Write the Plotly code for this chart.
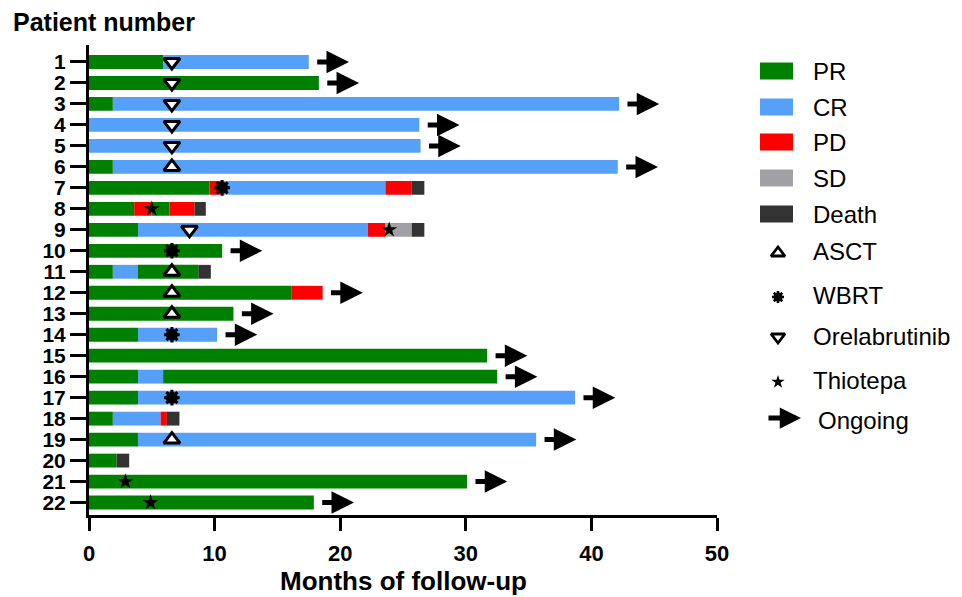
import plotly.graph_objects as go

# ---------------- data ----------------
patients = list(range(1, 23))
tick_labels = [str(p) for p in patients]

# response status sequence per patient and the month at which each segment ends
segment_status = [
    ["PR", "CR"],
    ["PR"],
    ["PR", "CR"],
    ["CR"],
    ["CR"],
    ["PR", "CR"],
    ["PR", "PD", "CR", "PD", "Death"],
    ["PR", "PD", "PR", "PD", "Death"],
    ["PR", "CR", "PD", "SD", "Death"],
    ["PR"],
    ["PR", "CR", "PR", "Death"],
    ["PR", "PD"],
    ["PR"],
    ["PR", "CR"],
    ["PR"],
    ["PR", "CR", "PR"],
    ["PR", "CR"],
    ["PR", "CR", "PD", "Death"],
    ["PR", "CR"],
    ["PR", "Death"],
    ["PR"],
    ["PR"],
]
segment_end = [
    [5.9, 17.5],
    [18.3],
    [1.9, 42.2],
    [26.3],
    [26.4],
    [1.9, 42.1],
    [9.6, 10.6, 23.6, 25.7, 26.7],
    [3.6, 5.0, 6.4, 8.4, 9.3],
    [3.9, 22.2, 23.6, 25.7, 26.7],
    [10.6],
    [1.9, 3.9, 8.7, 9.7],
    [16.1, 18.6],
    [11.5],
    [3.9, 10.2],
    [31.7],
    [3.9, 5.9, 32.5],
    [3.9, 38.7],
    [1.9, 5.7, 6.2, 7.2],
    [3.9, 35.6],
    [2.2, 3.2],
    [30.1],
    [17.9],
]

asct_patient = [6, 11, 12, 13, 19]
asct_month = [6.6, 6.6, 6.6, 6.6, 6.6]
wbrt_patient = [7, 10, 14, 17]
wbrt_month = [10.6, 6.6, 6.6, 6.6]
orela_patient = [1, 2, 3, 4, 5, 9]
orela_month = [6.6, 6.6, 6.6, 6.6, 6.6, 8.0]
thio_patient = [8, 9, 21, 22]
thio_month = [5.0, 23.9, 2.9, 4.9]
ongoing_patient = [1, 2, 3, 4, 5, 6, 10, 12, 13, 14, 15, 16, 17, 19, 21, 22]

status_order = ["PR", "CR", "PD", "SD", "Death"]

# ---------------- styles ----------------
OFF = 8                      # page body margin
W, H = 962 - OFF, 597 - OFF  # figure size so the page fills the window
FONT = "Arial, Liberation Sans, sans-serif"
colors = {"PR": "#008000", "CR": "#56A0FA", "PD": "#FF0000", "SD": "#A1A1A5", "Death": "#333333"}
ARROW_GAP, ARROW_LEN = 0.55, 2.65
BAR_W = 0.66


def px(x):   # window pixel -> figure pixel (x)
    return x - OFF


def py(y):   # window pixel -> figure pixel (y)
    return y - OFF


fig = go.Figure()

# stacked response bars
for st in status_order:
    ys, bases, lens = [], [], []
    for p, sts, ends in zip(patients, segment_status, segment_end):
        start = 0.0
        for s, e in zip(sts, ends):
            if s == st:
                ys.append(p)
                bases.append(start)
                lens.append(e - start)
            start = e
    fig.add_trace(go.Bar(
        y=ys, x=lens, base=bases, orientation="h", width=BAR_W,
        marker=dict(color=colors[st], line=dict(width=0)),
        name=st, showlegend=False, hoverinfo="skip"))

# event markers
fig.add_trace(go.Scatter(x=asct_month, y=asct_patient, mode="markers", showlegend=False,
                         marker=dict(symbol="triangle-up", size=14, color="white",
                                     line=dict(color="black", width=3))))
fig.add_trace(go.Scatter(x=orela_month, y=orela_patient, mode="markers", showlegend=False,
                         marker=dict(symbol="triangle-down", size=14, color="white",
                                     line=dict(color="black", width=3))))
fig.add_trace(go.Scatter(x=wbrt_month, y=wbrt_patient, mode="markers", showlegend=False,
                         marker=dict(symbol="circle", size=12, color="black")))
fig.add_trace(go.Scatter(x=wbrt_month, y=wbrt_patient, mode="markers", showlegend=False,
                         marker=dict(symbol="asterisk-open", size=13, color="black",
                                     line=dict(color="black", width=3))))
fig.add_trace(go.Scatter(x=thio_month, y=thio_patient, mode="markers", showlegend=False,
                         marker=dict(symbol="star", size=12, color="black", line=dict(width=0))))

# ongoing arrows
annotations = []
for p in ongoing_patient:
    end = segment_end[p - 1][-1]
    annotations.append(dict(
        x=end + ARROW_GAP + ARROW_LEN, y=p, ax=end + ARROW_GAP, ay=p,
        xref="x", yref="y", axref="x", ayref="y", text="", showarrow=True,
        arrowhead=2, arrowsize=0.9, arrowwidth=5, arrowcolor="black", standoff=0))

# ---------------- legend (drawn on a pixel overlay axis) ----------------
LEG_FONT = dict(family=FONT, size=24, color="black")
legend_bars = ["PR", "CR", "PD", "SD", "Death"]
legend_bar_y = [71, 107, 142, 178, 214]
shapes = []
for st, yy in zip(legend_bars, legend_bar_y):
    shapes.append(dict(type="rect", xref="x2", yref="y2", x0=px(760), x1=px(793),
                       y0=py(yy) - 8.5, y1=py(yy) + 8.5,
                       fillcolor=colors[st], line=dict(width=0)))
    annotations.append(dict(xref="x2", yref="y2", x=px(811), y=py(yy), text=st, showarrow=False,
                            xanchor="left", yanchor="middle", font=LEG_FONT))

legend_marker_labels = ["ASCT", "WBRT", "Orelabrutinib", "Thiotepa"]
legend_marker_y = [251, 295, 336, 380]
mx = px(778)
fig.add_trace(go.Scatter(x=[mx], y=[py(legend_marker_y[0]) + 2], xaxis="x2", yaxis="y2", mode="markers",
                         showlegend=False, marker=dict(symbol="triangle-up", size=12, color="white",
                                                       line=dict(color="black", width=2.8))))
fig.add_trace(go.Scatter(x=[mx], y=[py(legend_marker_y[1]) + 2], xaxis="x2", yaxis="y2", mode="markers",
                         showlegend=False, marker=dict(symbol="circle", size=9, color="black")))
fig.add_trace(go.Scatter(x=[mx], y=[py(legend_marker_y[1]) + 2], xaxis="x2", yaxis="y2", mode="markers",
                         showlegend=False, marker=dict(symbol="asterisk-open", size=10, color="black",
                                                       line=dict(color="black", width=2.5))))
fig.add_trace(go.Scatter(x=[mx], y=[py(legend_marker_y[2]) + 1], xaxis="x2", yaxis="y2", mode="markers",
                         showlegend=False, marker=dict(symbol="triangle-down", size=12, color="white",
                                                       line=dict(color="black", width=2.8))))
fig.add_trace(go.Scatter(x=[mx], y=[py(legend_marker_y[3]) + 2], xaxis="x2", yaxis="y2", mode="markers",
                         showlegend=False, marker=dict(symbol="star", size=10, color="black")))
for lab, yy in zip(legend_marker_labels, legend_marker_y):
    annotations.append(dict(xref="x2", yref="y2", x=px(811), y=py(yy), text=lab, showarrow=False,
                            xanchor="left", yanchor="middle", font=LEG_FONT))
annotations.append(dict(xref="x2", yref="y2", axref="x2", ayref="y2", x=px(801), y=py(418),
                        ax=px(767), ay=py(418),
                        text="", showarrow=True, arrowhead=2, arrowsize=0.85, arrowwidth=5,
                        arrowcolor="black", standoff=0))
annotations.append(dict(xref="x2", yref="y2", x=px(816), y=py(420), text="Ongoing", showarrow=False,
                        xanchor="left", yanchor="middle", font=LEG_FONT))

# y-axis title at top-left
annotations.append(dict(xref="x2", yref="y2", x=px(11), y=py(22), text="Patient number",
                        showarrow=False, xanchor="left", yanchor="middle",
                        font=dict(family=FONT, size=25, color="black", weight="bold")))

# x-axis title
annotations.append(dict(xref="x2", yref="y2", x=px(403), y=py(581), text="Months of follow-up",
                        showarrow=False, xanchor="center", yanchor="middle",
                        font=dict(family=FONT, size=26, color="black", weight="bold")))

x0_px, x1_px = px(89), px(717)
y_top_px, y_bot_px = py(45), py(514.5)

fig.update_layout(
    width=W, height=H, margin=dict(l=0, r=0, t=0, b=0),
    paper_bgcolor="white", plot_bgcolor="rgba(0,0,0,0)",
    barmode="overlay", showlegend=False,
    font=dict(family=FONT, color="black"),
    xaxis=dict(domain=[x0_px / W, x1_px / W], range=[0, 50], tickvals=[0, 10, 20, 30, 40, 50],
               ticks="outside", ticklen=13, tickwidth=3, tickcolor="black",
               showline=True, linewidth=3, linecolor="black", showgrid=False, zeroline=False,
               tickfont=dict(family=FONT, size=22, color="black", weight="bold"),
               ticklabelstandoff=4, automargin=False),
    yaxis=dict(domain=[1 - y_bot_px / H, 1 - y_top_px / H], range=[22.57, 0.19],
               tickvals=patients, ticktext=tick_labels,
               ticks="outside", ticklen=16, tickwidth=3, tickcolor="black",
               showline=True, linewidth=3, linecolor="black", showgrid=False, zeroline=False,
               tickfont=dict(family=FONT, size=21, color="black", weight="bold"),
               ticklabelstandoff=0, automargin=False),
    xaxis2=dict(domain=[0, 1], range=[0, W], visible=False, anchor="y2", fixedrange=True),
    yaxis2=dict(domain=[0, 1], range=[H, 0], visible=False, anchor="x2", fixedrange=True),
    shapes=shapes, annotations=annotations,
)

fig.write_html("out.html")
